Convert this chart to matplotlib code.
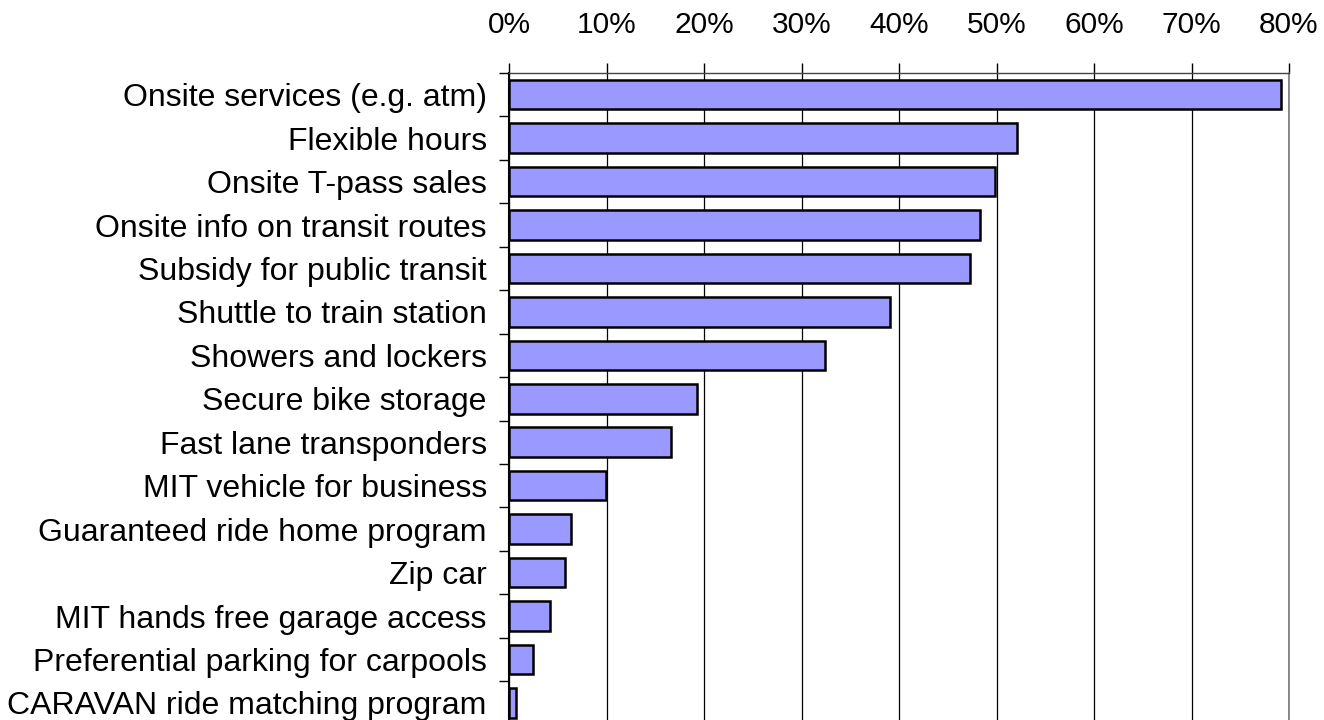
import matplotlib
matplotlib.use("Agg")
import matplotlib.pyplot as plt
from matplotlib.ticker import FixedLocator, PercentFormatter

categories = [
    "Onsite services (e.g. atm)",
    "Flexible hours",
    "Onsite T-pass sales",
    "Onsite info on transit routes",
    "Subsidy for public transit",
    "Shuttle to train station",
    "Showers and lockers",
    "Secure bike storage",
    "Fast lane transponders",
    "MIT vehicle for business",
    "Guaranteed ride home program",
    "Zip car",
    "MIT hands free garage access",
    "Preferential parking for carpools",
    "CARAVAN ride matching program",
]
values = [79.2, 52.1, 49.8, 48.3, 47.3, 39.1, 32.4, 19.3, 16.6, 9.9, 6.4, 5.7, 4.2, 2.5, 0.7]
xticks = [0, 10, 20, 30, 40, 50, 60, 70, 80]

plt.rcParams['font.family'] = ['Liberation Sans', 'DejaVu Sans']

W, H = 1324, 720
fig = plt.figure(figsize=(W / 100, H / 100), dpi=100)
left, right, top, bottom = 509, 1289, 73, 724.6
ax = fig.add_axes([left / W, 1 - bottom / H, (right - left) / W, (bottom - top) / H])

n = len(categories)
ypos = list(range(n))
ax.barh(ypos, values, height=0.68, color="#9999FF", edgecolor="black", linewidth=1.8, zorder=3)

ax.set_xlim(0, 80)
ax.set_ylim(n - 0.5, -0.5)

ax.xaxis.set_major_locator(FixedLocator(xticks))
ax.xaxis.set_major_formatter(PercentFormatter(decimals=0))
ax.xaxis.tick_top()
ax.tick_params(axis='x', which='major', direction='out', length=7.5, width=1, pad=17,
               labelsize=21.5, colors='black')
ax.grid(axis='x', color='black', linewidth=0.9, zorder=0)

ax.set_yticks(ypos)
ax.set_yticklabels(categories)
ax.set_yticks([i - 0.5 for i in range(n + 1)], minor=True)
ax.tick_params(axis='y', which='major', length=0, pad=16, labelsize=23)
ax.tick_params(axis='y', which='minor', direction='out', length=7.5, width=1)

ax.spines['bottom'].set_visible(False)
ax.spines['right'].set_color('#777777')
ax.spines['right'].set_linewidth(1.2)
ax.spines['left'].set_linewidth(1.5)
ax.spines['top'].set_linewidth(1.0)
ax.spines['top'].set_color('#444444')

fig.savefig("out.png", dpi=100)
